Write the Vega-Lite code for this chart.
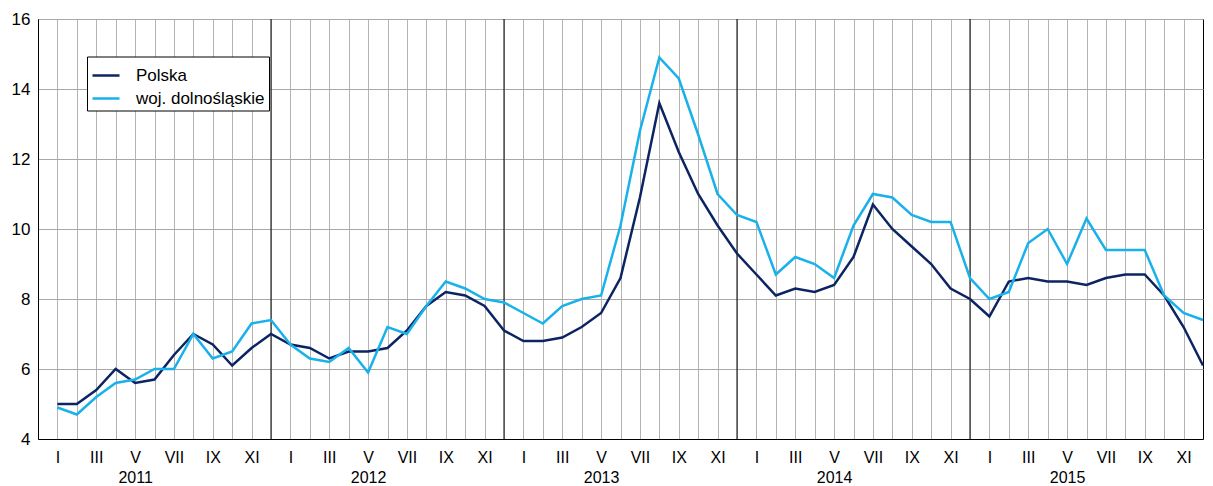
{
  "$schema": "https://vega.github.io/schema/vega-lite/v6.json",
  "width": 1165,
  "height": 420,
  "autosize": {"type": "none"},
  "padding": {"left": 38, "top": 19, "right": 10, "bottom": 47},
  "background": "white",
  "config": {
    "font": "Liberation Sans",
    "view": {"stroke": "black", "strokeWidth": 1},
    "axis": {"labelFont": "Liberation Sans", "labelColor": "black", "labelFontSize": 16}
  },
  "datasets": {
    "years": [{"t": 12}, {"t": 24}, {"t": 36}, {"t": 48}],
    "series": [
      {"t": 1, "s": "Polska", "v": 5.0}, {"t": 1, "s": "woj. dolnośląskie", "v": 4.9},
      {"t": 2, "s": "Polska", "v": 5.0}, {"t": 2, "s": "woj. dolnośląskie", "v": 4.7},
      {"t": 3, "s": "Polska", "v": 5.4}, {"t": 3, "s": "woj. dolnośląskie", "v": 5.2},
      {"t": 4, "s": "Polska", "v": 6.0}, {"t": 4, "s": "woj. dolnośląskie", "v": 5.6},
      {"t": 5, "s": "Polska", "v": 5.6}, {"t": 5, "s": "woj. dolnośląskie", "v": 5.7},
      {"t": 6, "s": "Polska", "v": 5.7}, {"t": 6, "s": "woj. dolnośląskie", "v": 6.0},
      {"t": 7, "s": "Polska", "v": 6.4}, {"t": 7, "s": "woj. dolnośląskie", "v": 6.0},
      {"t": 8, "s": "Polska", "v": 7.0}, {"t": 8, "s": "woj. dolnośląskie", "v": 7.0},
      {"t": 9, "s": "Polska", "v": 6.7}, {"t": 9, "s": "woj. dolnośląskie", "v": 6.3},
      {"t": 10, "s": "Polska", "v": 6.1}, {"t": 10, "s": "woj. dolnośląskie", "v": 6.5},
      {"t": 11, "s": "Polska", "v": 6.6}, {"t": 11, "s": "woj. dolnośląskie", "v": 7.3},
      {"t": 12, "s": "Polska", "v": 7.0}, {"t": 12, "s": "woj. dolnośląskie", "v": 7.4},
      {"t": 13, "s": "Polska", "v": 6.7}, {"t": 13, "s": "woj. dolnośląskie", "v": 6.7},
      {"t": 14, "s": "Polska", "v": 6.6}, {"t": 14, "s": "woj. dolnośląskie", "v": 6.3},
      {"t": 15, "s": "Polska", "v": 6.3}, {"t": 15, "s": "woj. dolnośląskie", "v": 6.2},
      {"t": 16, "s": "Polska", "v": 6.5}, {"t": 16, "s": "woj. dolnośląskie", "v": 6.6},
      {"t": 17, "s": "Polska", "v": 6.5}, {"t": 17, "s": "woj. dolnośląskie", "v": 5.9},
      {"t": 18, "s": "Polska", "v": 6.6}, {"t": 18, "s": "woj. dolnośląskie", "v": 7.2},
      {"t": 19, "s": "Polska", "v": 7.1}, {"t": 19, "s": "woj. dolnośląskie", "v": 7.0},
      {"t": 20, "s": "Polska", "v": 7.8}, {"t": 20, "s": "woj. dolnośląskie", "v": 7.8},
      {"t": 21, "s": "Polska", "v": 8.2}, {"t": 21, "s": "woj. dolnośląskie", "v": 8.5},
      {"t": 22, "s": "Polska", "v": 8.1}, {"t": 22, "s": "woj. dolnośląskie", "v": 8.3},
      {"t": 23, "s": "Polska", "v": 7.8}, {"t": 23, "s": "woj. dolnośląskie", "v": 8.0},
      {"t": 24, "s": "Polska", "v": 7.1}, {"t": 24, "s": "woj. dolnośląskie", "v": 7.9},
      {"t": 25, "s": "Polska", "v": 6.8}, {"t": 25, "s": "woj. dolnośląskie", "v": 7.6},
      {"t": 26, "s": "Polska", "v": 6.8}, {"t": 26, "s": "woj. dolnośląskie", "v": 7.3},
      {"t": 27, "s": "Polska", "v": 6.9}, {"t": 27, "s": "woj. dolnośląskie", "v": 7.8},
      {"t": 28, "s": "Polska", "v": 7.2}, {"t": 28, "s": "woj. dolnośląskie", "v": 8.0},
      {"t": 29, "s": "Polska", "v": 7.6}, {"t": 29, "s": "woj. dolnośląskie", "v": 8.1},
      {"t": 30, "s": "Polska", "v": 8.6}, {"t": 30, "s": "woj. dolnośląskie", "v": 10.1},
      {"t": 31, "s": "Polska", "v": 10.9}, {"t": 31, "s": "woj. dolnośląskie", "v": 12.8},
      {"t": 32, "s": "Polska", "v": 13.6}, {"t": 32, "s": "woj. dolnośląskie", "v": 14.9},
      {"t": 33, "s": "Polska", "v": 12.2}, {"t": 33, "s": "woj. dolnośląskie", "v": 14.3},
      {"t": 34, "s": "Polska", "v": 11.0}, {"t": 34, "s": "woj. dolnośląskie", "v": 12.7},
      {"t": 35, "s": "Polska", "v": 10.1}, {"t": 35, "s": "woj. dolnośląskie", "v": 11.0},
      {"t": 36, "s": "Polska", "v": 9.3}, {"t": 36, "s": "woj. dolnośląskie", "v": 10.4},
      {"t": 37, "s": "Polska", "v": 8.7}, {"t": 37, "s": "woj. dolnośląskie", "v": 10.2},
      {"t": 38, "s": "Polska", "v": 8.1}, {"t": 38, "s": "woj. dolnośląskie", "v": 8.7},
      {"t": 39, "s": "Polska", "v": 8.3}, {"t": 39, "s": "woj. dolnośląskie", "v": 9.2},
      {"t": 40, "s": "Polska", "v": 8.2}, {"t": 40, "s": "woj. dolnośląskie", "v": 9.0},
      {"t": 41, "s": "Polska", "v": 8.4}, {"t": 41, "s": "woj. dolnośląskie", "v": 8.6},
      {"t": 42, "s": "Polska", "v": 9.2}, {"t": 42, "s": "woj. dolnośląskie", "v": 10.1},
      {"t": 43, "s": "Polska", "v": 10.7}, {"t": 43, "s": "woj. dolnośląskie", "v": 11.0},
      {"t": 44, "s": "Polska", "v": 10.0}, {"t": 44, "s": "woj. dolnośląskie", "v": 10.9},
      {"t": 45, "s": "Polska", "v": 9.5}, {"t": 45, "s": "woj. dolnośląskie", "v": 10.4},
      {"t": 46, "s": "Polska", "v": 9.0}, {"t": 46, "s": "woj. dolnośląskie", "v": 10.2},
      {"t": 47, "s": "Polska", "v": 8.3}, {"t": 47, "s": "woj. dolnośląskie", "v": 10.2},
      {"t": 48, "s": "Polska", "v": 8.0}, {"t": 48, "s": "woj. dolnośląskie", "v": 8.6},
      {"t": 49, "s": "Polska", "v": 7.5}, {"t": 49, "s": "woj. dolnośląskie", "v": 8.0},
      {"t": 50, "s": "Polska", "v": 8.5}, {"t": 50, "s": "woj. dolnośląskie", "v": 8.2},
      {"t": 51, "s": "Polska", "v": 8.6}, {"t": 51, "s": "woj. dolnośląskie", "v": 9.6},
      {"t": 52, "s": "Polska", "v": 8.5}, {"t": 52, "s": "woj. dolnośląskie", "v": 10.0},
      {"t": 53, "s": "Polska", "v": 8.5}, {"t": 53, "s": "woj. dolnośląskie", "v": 9.0},
      {"t": 54, "s": "Polska", "v": 8.4}, {"t": 54, "s": "woj. dolnośląskie", "v": 10.3},
      {"t": 55, "s": "Polska", "v": 8.6}, {"t": 55, "s": "woj. dolnośląskie", "v": 9.4},
      {"t": 56, "s": "Polska", "v": 8.7}, {"t": 56, "s": "woj. dolnośląskie", "v": 9.4},
      {"t": 57, "s": "Polska", "v": 8.7}, {"t": 57, "s": "woj. dolnośląskie", "v": 9.4},
      {"t": 58, "s": "Polska", "v": 8.1}, {"t": 58, "s": "woj. dolnośląskie", "v": 8.1},
      {"t": 59, "s": "Polska", "v": 7.2}, {"t": 59, "s": "woj. dolnośląskie", "v": 7.6},
      {"t": 60, "s": "Polska", "v": 6.1}, {"t": 60, "s": "woj. dolnośląskie", "v": 7.4}
    ]
  },
  "resolve": {"axis": {"x": "independent"}},
  "layer": [
    {
      "data": {"name": "years"},
      "mark": {"type": "rule", "color": "black", "strokeWidth": 1},
      "encoding": {
        "x": {
          "field": "t",
          "type": "quantitative",
          "scale": {"domain": [0, 60], "nice": false, "zero": false},
          "axis": {
            "orient": "bottom",
            "title": null,
            "values": [5, 17, 29, 41, 53],
            "grid": false,
            "ticks": false,
            "domain": false,
            "labelPadding": 30,
            "labelOverlap": false,
            "labelBound": false,
            "labelFlush": false,
            "labelExpr": "'' + (2011 + floor((datum.value - 1) / 12))"
          }
        }
      }
    },
    {
      "data": {"name": "series"},
      "mark": {"type": "line", "strokeWidth": 2.5},
      "encoding": {
        "x": {
          "field": "t",
          "type": "quantitative",
          "scale": {"domain": [0, 60], "nice": false, "zero": false},
          "axis": {
            "orient": "bottom",
            "title": null,
            "values": [1,2,3,4,5,6,7,8,9,10,11,12,13,14,15,16,17,18,19,20,21,22,23,24,25,26,27,28,29,30,31,32,33,34,35,36,37,38,39,40,41,42,43,44,45,46,47,48,49,50,51,52,53,54,55,56,57,58,59],
            "grid": true,
            "gridColor": "#b4b4b4",
            "gridWidth": 1,
            "domainColor": "black",
            "ticks": false,
            "labelPadding": 10,
            "labelOverlap": false,
            "labelBound": false,
            "labelFlush": false,
            "labelExpr": "(datum.value - 1) % 12 == 0 ? 'I' : (datum.value - 1) % 12 == 2 ? 'III' : (datum.value - 1) % 12 == 4 ? 'V' : (datum.value - 1) % 12 == 6 ? 'VII' : (datum.value - 1) % 12 == 8 ? 'IX' : (datum.value - 1) % 12 == 10 ? 'XI' : ''"
          }
        },
        "y": {
          "field": "v",
          "type": "quantitative",
          "scale": {"domain": [4, 16], "nice": false, "zero": false},
          "axis": {
            "title": null,
            "values": [4, 6, 8, 10, 12, 14, 16],
            "grid": true,
            "gridColor": "#a8a8a8",
            "domainColor": "black",
            "ticks": false,
            "labelFontSize": 17,
            "labelPadding": 8
          }
        },
        "color": {
          "field": "s",
          "type": "nominal",
          "scale": {"domain": ["Polska", "woj. dolnośląskie"], "range": ["#0c2462", "#19b1ea"]},
          "legend": {
            "title": null,
            "orient": "none",
            "legendX": 49,
            "legendY": 37.5,
            "strokeColor": "black",
            "fillColor": "white",
            "padding": 4,
            "symbolType": "stroke",
            "symbolSize": 729,
            "symbolStrokeWidth": 2.5,
            "labelFontSize": 17,
            "labelFont": "Liberation Sans",
            "labelColor": "black",
            "labelOffset": 15,
            "rowPadding": -6
          }
        }
      }
    }
  ]
}
